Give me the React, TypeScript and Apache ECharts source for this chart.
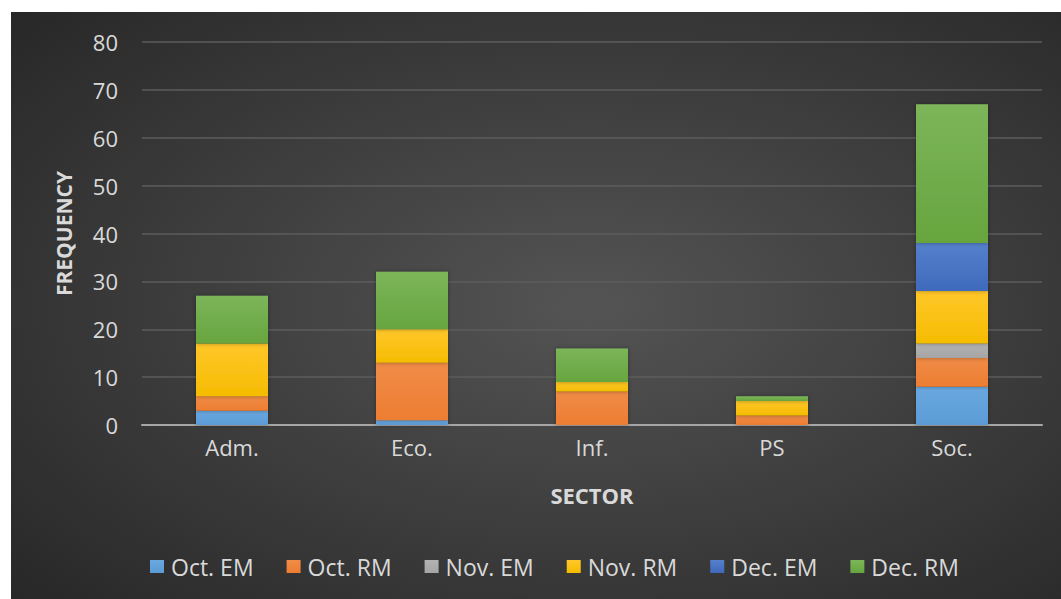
import React, { useEffect, useRef } from "react";
import * as echarts from "echarts";

const categories = ["Adm.", "Eco.", "Inf.", "PS", "Soc."];
const octEM = [3, 1, 0, 0, 8];
const octRM = [3, 12, 7, 2, 6];
const novEM = [0, 0, 0, 0, 3];
const novRM = [11, 7, 2, 3, 11];
const decEM = [0, 0, 0, 0, 10];
const decRM = [10, 12, 7, 1, 29];
const yTicks = [0, 10, 20, 30, 40, 50, 60, 70, 80];

const seriesDefs = [
  { name: "Oct. EM", data: octEM, top: "#6aa8e0", base: "#5B9BD5" },
  { name: "Oct. RM", data: octRM, top: "#f08c47", base: "#ED7D31" },
  { name: "Nov. EM", data: novEM, top: "#b3b3b3", base: "#A5A5A5" },
  { name: "Nov. RM", data: novRM, top: "#ffc72a", base: "#F5BC00" },
  { name: "Dec. EM", data: decEM, top: "#5580cc", base: "#3f6abc" },
  { name: "Dec. RM", data: decRM, top: "#7cb55a", base: "#67a53e" },
];

const FONT = "'Open Sans', 'Noto Sans', sans-serif";
const TXT = "#d9d9d9";

export default function App() {
  const ref = useRef<HTMLDivElement>(null);
  useEffect(() => {
    if (!ref.current) return;
    const chart = echarts.init(ref.current, undefined, { renderer: "svg" });
    chart.setOption({
      animation: false,
      backgroundColor: {
        type: "radial",
        x: 0.55,
        y: 0.5,
        r: 0.75,
        colorStops: [
          { offset: 0, color: "#545454" },
          { offset: 1, color: "#272727" },
        ],
      },
      textStyle: { fontFamily: FONT },
      grid: { left: 131, right: 19, top: 30, bottom: 174 },
      legend: {
        top: 538,
        left: 134,
        itemWidth: 14,
        itemHeight: 13,
        itemGap: 33,
        icon: "rect",
        textStyle: { color: TXT, fontSize: 23, fontFamily: FONT, padding: [0, 0, 0, 2] },
        data: seriesDefs.map((s) => s.name),
      },
      xAxis: {
        type: "category",
        data: categories,
        name: "SECTOR",
        nameLocation: "middle",
        nameGap: 59,
        nameTextStyle: { color: TXT, fontSize: 22, fontWeight: "bold", fontFamily: FONT },
        axisLine: { lineStyle: { color: "#a6a6a6", width: 2 } },
        axisTick: { show: false },
        axisLabel: { color: TXT, fontSize: 22, margin: 11, fontFamily: FONT },
      },
      yAxis: {
        type: "value",
        min: yTicks[0],
        max: yTicks[yTicks.length - 1],
        interval: 10,
        name: "FREQUENCY",
        nameLocation: "middle",
        nameGap: 68,
        nameTextStyle: { color: TXT, fontSize: 21, fontWeight: "bold", fontFamily: FONT },
        axisLine: { show: false },
        axisTick: { show: false },
        axisLabel: { color: TXT, fontSize: 22, margin: 24, fontFamily: FONT },
        splitLine: { lineStyle: { color: "#5c5c5c", width: 1.5 } },
      },
      series: seriesDefs.map((s) => ({
        name: s.name,
        type: "bar",
        stack: "total",
        barWidth: "40%",
        data: s.data,
        itemStyle: {
          color: {
            type: "linear",
            x: 0,
            y: 0,
            x2: 0,
            y2: 1,
            colorStops: [
              { offset: 0, color: s.top },
              { offset: 1, color: s.base },
            ],
          },
          shadowColor: "rgba(0,0,0,0.35)",
          shadowBlur: 4,
        },
        emphasis: { disabled: true },
      })),
    });
    return () => chart.dispose();
  }, []);
  return (
    <div style={{ position: "fixed", left: 0, top: 0, width: 1061, height: 599, background: "#ffffff" }}>
      <div ref={ref} style={{ position: "absolute", left: 11, top: 12, width: 1050, height: 587 }} />
    </div>
  );
}
